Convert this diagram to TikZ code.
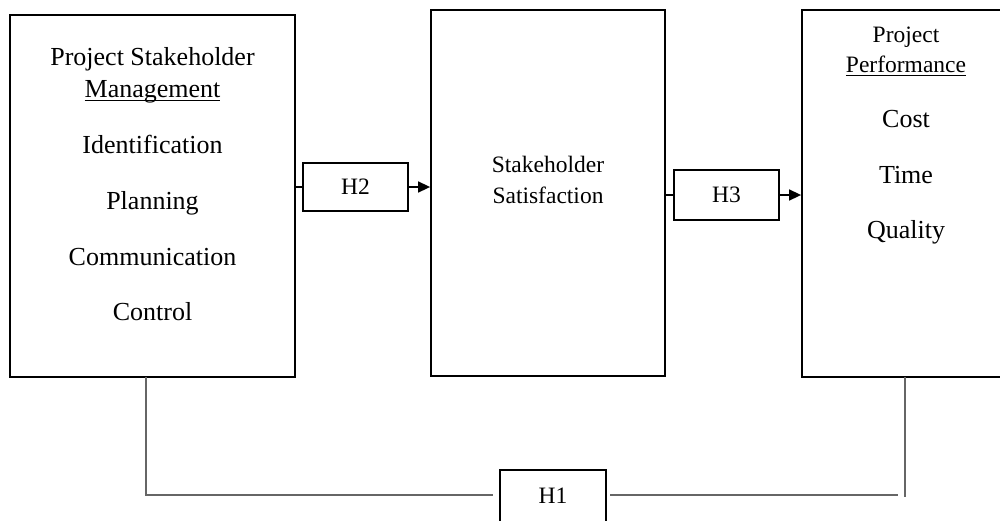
\documentclass[tikz,border=0pt]{standalone}
\usepackage{fontspec}
\setmainfont{Liberation Serif}
\usetikzlibrary{arrows.meta}
\newcommand\myul[1]{\setbox0\hbox{#1}\rlap{\rule[-4pt]{\wd0}{1.3pt}}\box0}
\tikzset{
  box/.style={draw=black, line width=1.8pt, inner sep=0pt},
  hbox/.style={draw=black, line width=1.8pt, inner sep=0pt, minimum width=105pt},
  big/.style={anchor=base, inner sep=0pt, font=\fontsize{26}{30}\selectfont},
  small/.style={anchor=base, inner sep=0pt, font=\fontsize{23.5}{28}\selectfont},
  link/.style={draw=black, line width=1.5pt},
  glink/.style={draw=black!60, line width=1.5pt},
  arr/.style={-{Triangle[length=12pt,width=11pt]}}
}
\begin{document}
\begin{tikzpicture}[x=1pt,y=-1pt]
\useasboundingbox (0,0) rectangle (1000,520);
\clip (0,0) rectangle (1000,520);
% main boxes
\node[box, minimum width=285pt, minimum height=362pt] (L) at (152.5,196) {};
\node[box, minimum width=234pt, minimum height=366pt] (M) at (548,193) {};
\node[box, minimum width=208pt, minimum height=367pt] (R) at (906,193.5) {};
% hypothesis boxes
\node[hbox, minimum height=48pt] (H2) at (355.5,187) {};
\node[hbox, minimum height=50pt] (H3) at (726.5,195) {};
\node[hbox, minimum width=106pt, minimum height=55pt] (H1) at (553,497.5) {};
% left texts
\node[big] (l1) at (152.5,65) {Project Stakeholder};
\node[big] (l2) at (152.5,97) {\myul{Management}};
\node[big] (l3) at (152.5,153) {Identification};
\node[big] (l4) at (152.5,209) {Planning};
\node[big] (l5) at (152.5,265) {Communication};
\node[big] (l6) at (152.5,320) {Control};
% middle texts
\node[small] (m1) at (548,172) {Stakeholder};
\node[small] (m2) at (548,203) {Satisfaction};
% right texts
\node[small] (r1) at (906,42) {Project};
\node[small] (r2) at (906,72) {\myul{Performance}};
\node[big] (r3) at (906,127) {Cost};
\node[big] (r4) at (906,183) {Time};
\node[big] (r5) at (906,238) {Quality};
% H labels
\node[small] (t2) at (355.5,194) {H2};
\node[small] (t3) at (726.5,202) {H3};
\node[small] (t1) at (553,503) {H1};
% connectors
\draw[link] (H2.west -| L.east) -- (H2.west);
\draw[link, arr] (H2.east) -- (H2.east -| M.west);
\draw[link] (H3.west -| M.east) -- (H3.west);
\draw[link, arr] (H3.east) -- (H3.east -| R.west);
\coordinate (a1) at (146,377);
\coordinate (a2) at (146,495);
\coordinate (a3) at (493,495);
\coordinate (b1) at (610,495);
\coordinate (b2) at (898,495);
\coordinate (c1) at (905,377);
\coordinate (c2) at (905,497);
\draw[glink] (a1) -- (a2) -- (a3);
\draw[glink] (b1) -- (b2);
\draw[glink] (c1) -- (c2);
\end{tikzpicture}
\end{document}
